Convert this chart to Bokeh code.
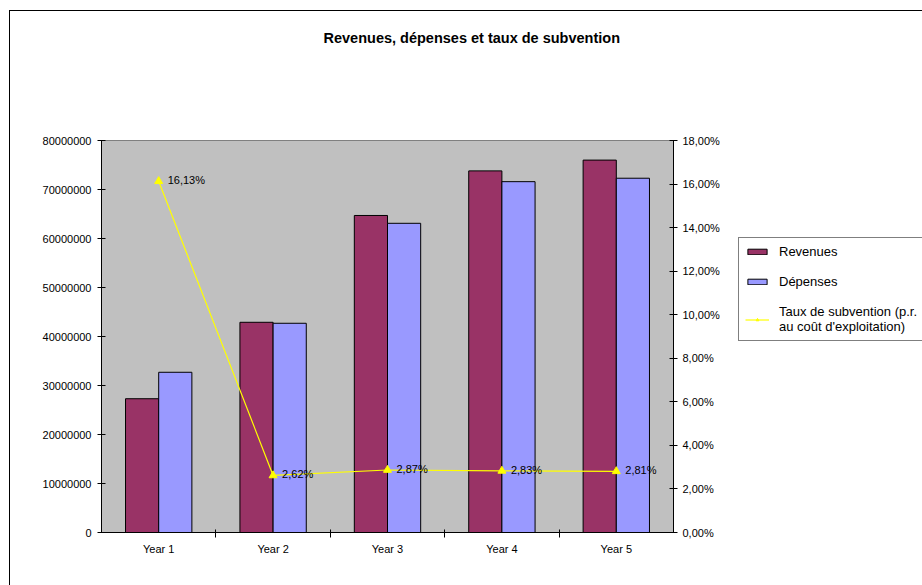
from bokeh.plotting import figure
from bokeh.layouts import row
from bokeh.models import (Range1d, LinearAxis, FixedTicker, CustomJSTickFormatter,
                          ColumnDataSource, LabelSet, Legend, LegendItem,
                          InlineStyleSheet)
from bokeh.core.properties import value
from bokeh.embed import file_html
from bokeh.resources import INLINE
import numpy as np

# --- data ---
years = ["Year 1", "Year 2", "Year 3", "Year 4", "Year 5"]
revenues = [27300000, 42900000, 64700000, 73800000, 76000000]
depenses = [32700000, 42700000, 63100000, 71600000, 72300000]
taux = [16.13, 2.62, 2.87, 2.83, 2.81]  # percent
left_ticks = [0, 10000000, 20000000, 30000000, 40000000, 50000000, 60000000, 70000000, 80000000]
right_ticks = [0, 2, 4, 6, 8, 10, 12, 14, 16, 18]
series_names = ["Revenues", "Dépenses", "Taux de subvention (p.r.\nau coût d'exploitation)"]

FONT = "Liberation Sans"
REV_COLOR = "#993366"
DEP_COLOR = "#9999FF"
LINE_COLOR = "#FFFF00"

centers = np.arange(len(years)) + 0.5
bar_w = 0.29

src = ColumnDataSource(dict(
    xr=centers - bar_w / 2,
    xd=centers + bar_w / 2,
    xc=centers,
    rev=revenues,
    dep=depenses,
    taux=taux,
    lbl=[f"{v:.2f}".replace(".", ",") + "%" for v in taux],
))

CHART_W = 733
chart = figure(width=CHART_W, height=585, output_backend="svg", toolbar_location=None,
               x_range=Range1d(0, len(years)), y_range=Range1d(0, 80000000),
               min_border_left=101, min_border_right=60,
               min_border_top=140, min_border_bottom=53,
               background_fill_color="#C0C0C0", border_fill_color="white",
               title="Revenues, dépenses et taux de subvention")
chart.outline_line_color = "#808080"
chart.grid.visible = False
chart.extra_y_ranges = {"pct": Range1d(0, 18)}
xa = chart.below[0]
ya = chart.left[0]

# title
chart.title.align = "left"
chart.title.offset = 222
chart.title.standoff = 54
chart.title.text_font = FONT
chart.title.text_font_style = "bold"
chart.title.text_font_size = "14.5px"
chart.title.text_color = "black"

# blank spacer axis between the title and the plot area (white tick on white)
spacer = LinearAxis(ticker=FixedTicker(ticks=[0]), axis_line_color=None,
                    major_tick_line_color="white", minor_tick_line_color=None,
                    major_tick_out=68, major_tick_in=0, major_label_standoff=0,
                    major_label_overrides={0: ""}, major_label_text_font_size="0px")
chart.add_layout(spacer, "above")

# outer chart border (left and top edges)
chart.stylesheets = [InlineStyleSheet(css="""
:host { position: relative; }
:host::after {
  content: ""; position: absolute; left: 9px; top: 10px; right: 0; bottom: 0;
  border-left: 1px solid #000; border-top: 1px solid #000; pointer-events: none;
}
""")]

# bars
chart.vbar(x="xr", top="rev", width=bar_w, source=src,
           fill_color=REV_COLOR, line_color="black", line_width=1)
chart.vbar(x="xd", top="dep", width=bar_w, source=src,
           fill_color=DEP_COLOR, line_color="black", line_width=1)

# subsidy rate line on secondary axis
chart.line(x="xc", y="taux", source=src, y_range_name="pct",
           line_color=LINE_COLOR, line_width=1.2)
chart.scatter(x="xc", y="taux", source=src, y_range_name="pct",
              marker="triangle", size=8, fill_color=LINE_COLOR, line_color=LINE_COLOR)

labels = LabelSet(x="xc", y="taux", text="lbl", source=src, y_range_name="pct",
                  x_offset=9, y_offset=1, text_baseline="middle",
                  text_font=value(FONT), text_font_size=value("11px"),
                  text_color="black")
chart.add_layout(labels)

# x axis: labels at category centres, ticks at boundaries
xa.ticker = FixedTicker(ticks=list(centers), minor_ticks=list(range(1, len(years))))
xa.major_label_overrides = {float(c): y for c, y in zip(centers, years)}
xa.major_tick_line_color = None
xa.major_tick_in = 0
xa.major_tick_out = 0
xa.minor_tick_in = 3
xa.minor_tick_out = 5
xa.minor_tick_line_color = "black"
xa.axis_line_color = "black"
xa.major_label_standoff = 5
xa.major_label_text_font = FONT
xa.major_label_text_font_size = "11px"
xa.major_label_text_color = "black"

# left axis
ya.ticker = FixedTicker(ticks=left_ticks)
ya.formatter = CustomJSTickFormatter(code="return tick.toFixed(0);")
ya.major_tick_in = 4
ya.major_tick_out = 4
ya.minor_tick_line_color = None
ya.axis_line_color = "black"
ya.major_label_standoff = 6
ya.major_label_text_font = FONT
ya.major_label_text_font_size = "11px"
ya.major_label_text_color = "black"

# right axis
ra = LinearAxis(y_range_name="pct")
ra.ticker = FixedTicker(ticks=right_ticks)
ra.formatter = CustomJSTickFormatter(code="return tick.toFixed(2).replace('.', ',') + '%';")
ra.major_tick_in = 4
ra.major_tick_out = 4
ra.minor_tick_line_color = None
ra.axis_line_color = "black"
ra.major_label_standoff = 5
ra.major_label_text_font = FONT
ra.major_label_text_font_size = "11px"
ra.major_label_text_color = "black"
chart.add_layout(ra, "right")

# --- legend panel to the right of the chart ---
# the series are re-drawn here outside the visible window, only to feed the legend
key = figure(width=922 - CHART_W, height=585, output_backend="svg", toolbar_location=None,
             x_range=Range1d(-3, -2), y_range=Range1d(-3, -2),
             x_axis_type=None, y_axis_type=None, min_border=0,
             background_fill_color="white", border_fill_color="white")
key.outline_line_color = None
key.grid.visible = False
key.stylesheets = [InlineStyleSheet(css="""
:host { position: relative; }
:host::after {
  content: ""; position: absolute; left: 0; top: 10px; right: 0; bottom: 0;
  border-top: 1px solid #000; pointer-events: none;
}
""")]

k_rev = key.vbar(x="xr", top="rev", width=bar_w, source=src,
                 fill_color=REV_COLOR, line_color="black")
k_dep = key.vbar(x="xd", top="dep", width=bar_w, source=src,
                 fill_color=DEP_COLOR, line_color="black")
k_line = key.line(x="xc", y="taux", source=src, line_color=LINE_COLOR, line_width=1.2)
k_mark = key.scatter(x="xc", y="taux", source=src, marker="triangle", size=7,
                     fill_color=LINE_COLOR, line_color=LINE_COLOR)

legend = Legend(items=[
    LegendItem(label=series_names[0], renderers=[k_rev]),
    LegendItem(label=series_names[1], renderers=[k_dep]),
    LegendItem(label=series_names[2], renderers=[k_line, k_mark]),
], location=(5, 191))
legend.label_text_font = FONT
legend.label_text_font_size = "13px"
legend.label_text_color = "black"
legend.glyph_width = 24
legend.glyph_height = 7
legend.label_height = 15
legend.spacing = 15
legend.padding = 6
legend.margin = 0
legend.label_standoff = 10
legend.border_line_color = "black"
legend.border_line_width = 1
legend.background_fill_color = "white"
legend.background_fill_alpha = 1
key.add_layout(legend)

p = row(chart, key, spacing=0)

open("out.html", "w").write(file_html(p, INLINE))
